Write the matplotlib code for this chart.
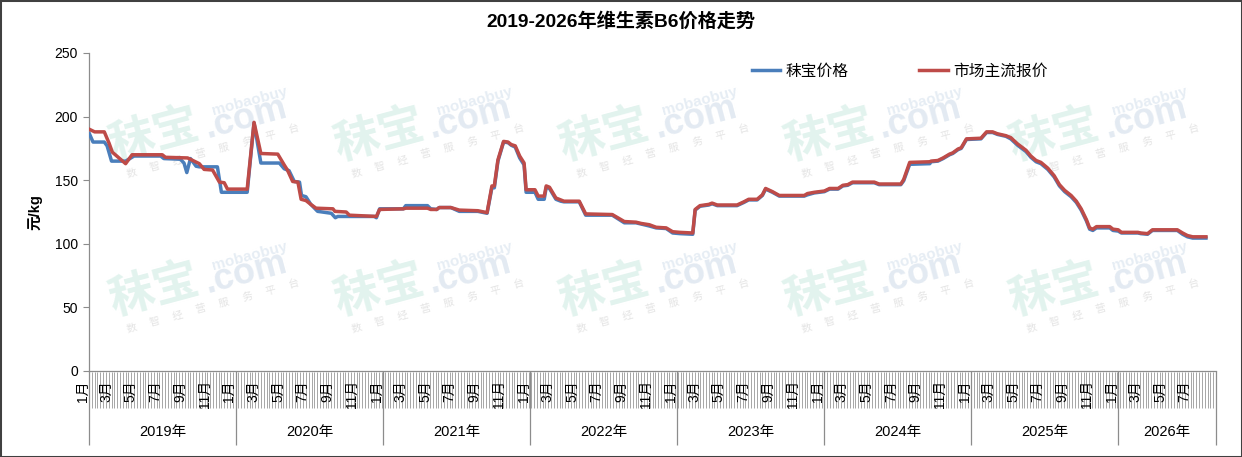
import numpy as np
import pandas as pd
import matplotlib
matplotlib.use("Agg")
import matplotlib.pyplot as plt
import matplotlib.transforms as mtransforms
from matplotlib.patches import Rectangle

plt.rcParams["font.family"] = ["Liberation Sans", "Noto Sans CJK SC", "DejaVu Sans"]

W, H = 1242, 457

title = "2019-2026年维生素B6价格走势"
series_names = ["秣宝价格", "市场主流报价"]
years = [2019, 2020, 2021, 2022, 2023, 2024, 2025, 2026]
month_labels = ["1月", "3月", "5月", "7月", "9月", "11月"]

# 市场主流报价 (red) at the turning points
red_dates = [
    "2019-01-02", "2019-01-15", "2019-02-08", "2019-02-20", "2019-02-28", "2019-04-02",
    "2019-04-18", "2019-07-02", "2019-07-10", "2019-09-03", "2019-09-19", "2019-10-02",
    "2019-10-14", "2019-11-04", "2019-11-21", "2019-12-03", "2019-12-11", "2020-01-29",
    "2020-02-15", "2020-03-03", "2020-04-14", "2020-04-30", "2020-05-08", "2020-05-21",
    "2020-06-03", "2020-06-11", "2020-06-23", "2020-07-05", "2020-07-18", "2020-08-29",
    "2020-09-03", "2020-10-01", "2020-10-09", "2020-12-15", "2020-12-23", "2021-02-20",
    "2021-02-26", "2021-04-21", "2021-04-29", "2021-05-14", "2021-05-20", "2021-06-18",
    "2021-07-09", "2021-08-24", "2021-09-16", "2021-09-28", "2021-10-04", "2021-10-13",
    "2021-10-27", "2021-11-07", "2021-11-15", "2021-11-25", "2021-12-06", "2021-12-17",
    "2021-12-22", "2022-01-13", "2022-01-21", "2022-02-05", "2022-02-10", "2022-02-18",
    "2022-03-06", "2022-03-18", "2022-03-26", "2022-05-03", "2022-05-19", "2022-07-24",
    "2022-08-23", "2022-09-21", "2022-10-04", "2022-10-24", "2022-11-10", "2022-12-05",
    "2022-12-21", "2023-01-08", "2023-02-09", "2023-02-15", "2023-02-27", "2023-03-21",
    "2023-03-29", "2023-04-11", "2023-05-30", "2023-06-16", "2023-06-28", "2023-07-19",
    "2023-08-01", "2023-08-09", "2023-08-26", "2023-09-12", "2023-11-13", "2023-11-21",
    "2023-12-08", "2024-01-02", "2024-01-15", "2024-02-05", "2024-02-17", "2024-02-29",
    "2024-03-12", "2024-05-05", "2024-05-17", "2024-07-10", "2024-07-17", "2024-08-01",
    "2024-09-20", "2024-09-23", "2024-10-10", "2024-10-23", "2024-11-08", "2024-11-16",
    "2024-11-29", "2024-12-07", "2024-12-20", "2025-01-25", "2025-02-08", "2025-02-23",
    "2025-03-07", "2025-03-28", "2025-04-09", "2025-04-26", "2025-05-17", "2025-05-29",
    "2025-06-11", "2025-06-23", "2025-07-10", "2025-07-26", "2025-08-08", "2025-08-21",
    "2025-09-06", "2025-09-19", "2025-10-01", "2025-10-14", "2025-10-22", "2025-10-30",
    "2025-11-08", "2025-12-11", "2025-12-19", "2026-01-01", "2026-01-09", "2026-02-19",
    "2026-02-26", "2026-03-15", "2026-03-27", "2026-05-28", "2026-06-10", "2026-06-22",
    "2026-07-05", "2026-08-07",
]
red_price = [
    190, 188, 188, 179, 172, 163,
    170, 170, 168, 167.5, 165, 163,
    158.5, 158, 148.5, 148, 143, 143,
    195.5, 171, 170.5, 162, 158, 149,
    148.5, 135, 134, 131, 128, 127.5,
    125.5, 125, 122.5, 121.5, 127, 127.5,
    128, 128, 127, 127, 128.5, 128.5,
    126.5, 126, 124.5, 145.5, 145.5, 166,
    180.5, 180, 178, 177, 169, 163.5,
    142.5, 142.5, 137.5, 137.5, 145.5, 144.5,
    136, 134.5, 133.5, 133.5, 123.5, 123,
    117.5, 117, 116, 115, 113, 112.5,
    109.5, 109, 108.5, 127, 130, 131,
    132, 130.5, 130.5, 133, 135, 135,
    138.5, 143.5, 141, 138, 138, 139.5,
    140.5, 141.5, 143.5, 143.5, 146, 146.5,
    148.5, 148.5, 147, 147, 150.5, 164,
    164.5, 165, 165.5, 167.5, 170.5, 171.5,
    174.5, 175.5, 182.5, 183, 188, 188,
    186.5, 185, 183.5, 178.5, 173.5, 169,
    165.5, 164, 159.5, 153.5, 146.5, 142,
    138, 133.5, 127.5, 119, 112.5, 111.5,
    113.5, 113.5, 111.5, 111, 109, 109,
    108.5, 108, 111, 111, 108.5, 106.5,
    105.5, 105.5,
]

# 秣宝价格 (blue)
blue_dates = [
    "2019-01-02", "2019-01-11", "2019-02-08", "2019-02-15", "2019-02-26", "2019-04-02",
    "2019-04-10", "2019-04-23", "2019-06-28", "2019-07-06", "2019-08-16", "2019-08-25",
    "2019-09-01", "2019-09-10", "2019-09-24", "2019-10-02", "2019-11-16", "2019-11-26",
    "2020-01-29", "2020-02-15", "2020-03-03", "2020-04-18", "2020-04-30", "2020-05-12",
    "2020-05-25", "2020-06-07", "2020-06-12", "2020-06-23", "2020-07-05", "2020-07-22",
    "2020-08-25", "2020-09-04", "2020-09-10", "2020-12-10", "2020-12-15", "2020-12-23",
    "2021-02-20", "2021-02-26", "2021-04-21", "2021-04-29", "2021-05-14", "2021-05-20",
    "2021-06-18", "2021-07-09", "2021-08-24", "2021-09-16", "2021-09-28", "2021-10-04",
    "2021-10-13", "2021-10-27", "2021-11-07", "2021-11-15", "2021-11-25", "2021-12-06",
    "2021-12-17", "2021-12-22", "2022-01-13", "2022-01-21", "2022-02-05", "2022-02-10",
    "2022-02-18", "2022-03-06", "2022-03-18", "2022-03-26", "2022-05-03", "2022-05-19",
    "2022-07-24", "2022-08-23", "2022-09-21", "2022-10-04", "2022-10-24", "2022-11-10",
    "2022-12-05", "2022-12-21", "2023-01-08", "2023-02-09", "2023-02-15", "2023-02-27",
    "2023-03-21", "2023-03-29", "2023-04-11", "2023-05-30", "2023-06-16", "2023-06-28",
    "2023-07-19", "2023-08-01", "2023-08-09", "2023-08-26", "2023-09-12", "2023-11-13",
    "2023-11-21", "2023-12-08", "2024-01-02", "2024-01-15", "2024-02-05", "2024-02-17",
    "2024-02-29", "2024-03-12", "2024-05-05", "2024-05-17", "2024-07-10", "2024-07-17",
    "2024-08-01", "2024-09-20", "2024-09-23", "2024-10-10", "2024-10-23", "2024-11-08",
    "2024-11-16", "2024-11-29", "2024-12-07", "2024-12-20", "2025-01-25", "2025-02-08",
    "2025-02-23", "2025-03-07", "2025-03-28", "2025-04-09", "2025-04-26", "2025-05-17",
    "2025-05-29", "2025-06-11", "2025-06-23", "2025-07-10", "2025-07-26", "2025-08-08",
    "2025-08-21", "2025-09-06", "2025-09-19", "2025-10-01", "2025-10-14", "2025-10-22",
    "2025-10-30", "2025-11-08", "2025-12-11", "2025-12-19", "2026-01-01", "2026-01-09",
    "2026-02-19", "2026-02-26", "2026-03-15", "2026-03-27", "2026-05-28", "2026-06-10",
    "2026-06-22", "2026-07-05", "2026-08-07",
]
blue_price = [
    186.5, 180, 180, 177, 165, 165,
    166.5, 169, 169, 167, 166.5, 163.5,
    156, 167, 161, 160.5, 160.5, 140.5,
    140.5, 195, 163.5, 163.5, 159, 157.5,
    149, 148.5, 138, 137, 131, 125.5,
    124, 120.5, 121.5, 121.5, 120.5, 127.5,
    127.5, 130, 130, 127.5, 127, 128.5,
    128.5, 125.5, 125.5, 124, 144, 144,
    165, 180, 179.5, 177.5, 176, 167.5,
    162, 140.5, 140.5, 135, 135, 144.5,
    143.5, 135, 133.5, 133, 133, 122.5,
    122.5, 116.5, 116.5, 115.5, 114, 112.5,
    112, 108.5, 108, 107.5, 126.5, 129.5,
    130.5, 131.5, 130, 130, 132.5, 134.5,
    134.5, 138, 143, 140.5, 137.5, 137.5,
    138.5, 140, 141, 143, 143, 145.5,
    146, 148, 148, 146.5, 146.5, 149.5,
    162.5, 163, 164.5, 165, 167, 170,
    171, 174, 175, 182, 182.5, 187.5,
    187.5, 186, 184.5, 182.5, 177.5, 172.5,
    168, 164.5, 163, 158.5, 152.5, 145.5,
    141, 137, 132.5, 126.5, 118, 111.5,
    110.5, 112.5, 112.5, 110.5, 110, 108.5,
    108.5, 108, 107.5, 110.5, 110.5, 107.5,
    105.5, 104.5, 104.5,
]

blue_color = "#4A7EBB"
red_color = "#BE4B48"
axis_gray = "#8C8C8C"

fig = plt.figure(figsize=(W / 100, H / 100), dpi=100)
fig.patch.set_facecolor("white")


def fxy(px, py):
    return px / W, 1 - py / H


# faint site watermark tiles behind the plot
def watermark(x0, y0):
    ang = 15
    ux, uy = np.cos(np.radians(ang)), -np.sin(np.radians(ang))
    kw = dict(rotation=ang, rotation_mode="anchor", ha="left", va="baseline", zorder=-1)
    fig.text(*fxy(x0, y0), "秣宝", fontsize=33, fontweight="heavy", color="#e2f3ee",
             family=["Noto Sans CJK SC"], **kw)
    fig.text(*fxy(x0 + 94, y0 - 22), ".com", fontsize=26, fontweight="bold", color="#e3eaf2", **kw)
    fig.text(*fxy(x0 + 100, y0 - 45), "mobaobuy", fontsize=11, fontweight="bold", color="#e6edf4", **kw)
    for i, ch in enumerate("数智经营服务平台"):
        fig.text(*fxy(x0 + 14 + i * 24 * ux, y0 + 17 + i * 24 * uy), ch, fontsize=7.5,
                 color="#e4e4e4", family=["Noto Sans CJK SC"], **kw)


for row_y in (160, 315):
    for col_x in (113, 338, 563, 788, 1013):
        watermark(col_x, row_y)

ax_l, ax_r, ax_t, ax_b = 89, 1216, 53, 371
ax_h = ax_b - ax_t
ax = fig.add_axes([ax_l / W, 1 - ax_b / H, (ax_r - ax_l) / W, ax_h / H])
ax.patch.set_visible(False)

bd = pd.to_datetime(blue_dates)
rd = pd.to_datetime(red_dates)
ax.plot(bd, blue_price, color=blue_color, lw=2.5, solid_joinstyle="round", label=series_names[0], zorder=3)
ax.plot(rd, red_price, color=red_color, lw=2.5, solid_joinstyle="round", label=series_names[1], zorder=4)

x_start = pd.Timestamp("2019-01-01")
x_end = pd.Timestamp("2026-09-01")
ax.set_xlim(x_start, x_end)
ax.set_ylim(0, 250)
ax.set_yticks(np.arange(0, 251, 50))
ax.tick_params(axis="y", direction="out", length=4, width=0.8, color=axis_gray, labelsize=10, pad=4)
ax.set_xticks([])
for s in ("top", "right"):
    ax.spines[s].set_visible(False)
for s in ("left", "bottom"):
    ax.spines[s].set_color(axis_gray)
    ax.spines[s].set_linewidth(0.9)

# category axis band: weekly ticks, month labels, year groups
xt = ax.get_xaxis_transform()
weeks = pd.date_range(x_start, x_end, freq="7D")
ax.vlines(weeks, -37 / ax_h, -1 / ax_h, transform=xt, colors="#A6A6A6", lw=0.7, clip_on=False)

year_edges = [pd.Timestamp(f"{y}-01-01") for y in years] + [x_end]
ax.vlines(year_edges, -74 / ax_h, 0, transform=xt, colors=axis_gray, lw=0.9, clip_on=False)

lab_off = xt + mtransforms.ScaledTranslation(-6.5 / 100, 0, fig.dpi_scale_trans)
for y in years:
    for i, lab in enumerate(month_labels):
        d = pd.Timestamp(year=y, month=1 + 2 * i, day=1)
        if d >= x_end:
            continue
        ax.text(d, -9 / ax_h, lab, rotation=90, ha="center", va="top", fontsize=10,
                transform=lab_off, clip_on=False)

for a, b, y in zip(year_edges[:-1], year_edges[1:], years):
    ax.text(a + (b - a) / 2, -61 / ax_h, f"{y}年", ha="center", va="center", fontsize=10.5,
            transform=xt, clip_on=False)

fig.text(*fxy(621, 21), title, ha="center", va="center", fontsize=13.8, fontweight="bold")
fig.text(*fxy(35, 212), "元/kg", ha="center", va="center", rotation=90, fontsize=10.5, fontweight="bold")

ax.legend(loc="center left", bbox_to_anchor=fxy(752, 71), bbox_transform=fig.transFigure,
          ncol=2, frameon=False, fontsize=11.3, handlelength=1.8, handletextpad=0.35,
          columnspacing=4.5, borderpad=0, borderaxespad=0)

fig.patches.append(Rectangle((0, 0), 1, 1, transform=fig.transFigure, fill=False,
                             edgecolor="#404040", lw=2.2, zorder=10))

fig.savefig("out.png", dpi=100, facecolor="white")
